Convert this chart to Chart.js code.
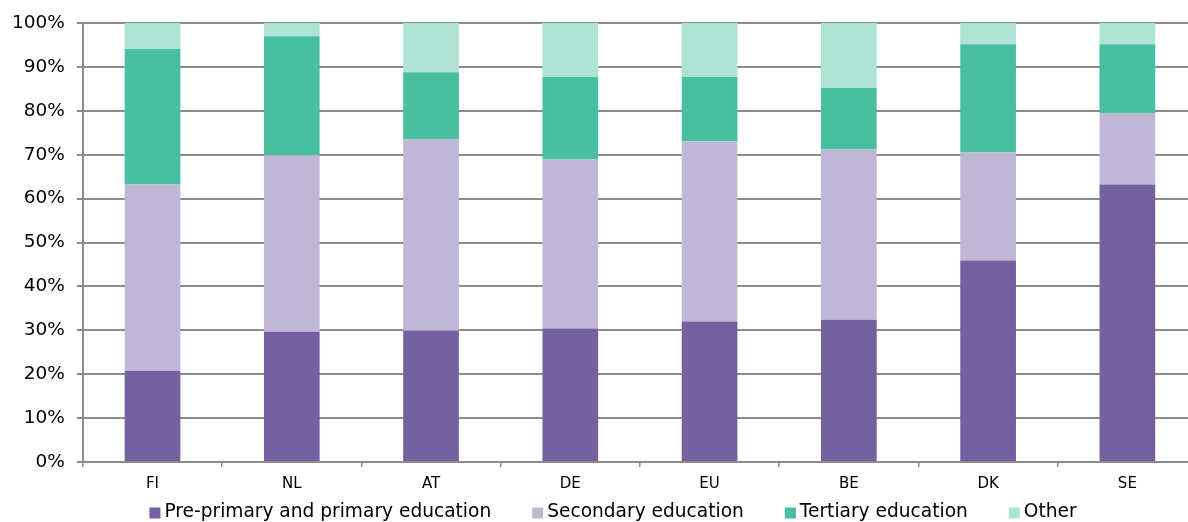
<!DOCTYPE html>
<html>
<head>
<meta charset="utf-8">
<script src="https://cdn.jsdelivr.net/npm/chart.js@4/dist/chart.umd.min.js"></script>
<style>
  html, body { margin: 0; padding: 0; background: #fff; overflow: hidden; }
  #wrap { position: relative; width: 1228px; height: 522px; }
</style>
</head>
<body>
<div id="wrap"><canvas id="c"></canvas></div>
<script>
// Share of spending by education level, per country (%)
const countries = ['FI', 'NL', 'AT', 'DE', 'EU', 'BE', 'DK', 'SE'];
const primary   = [20.8, 29.7, 29.9, 30.4, 32.0, 32.4, 45.9, 63.2];
const secondary = [42.4, 40.2, 43.6, 38.5, 41.1, 38.8, 24.6, 16.3];
const tertiary  = [30.9, 27.1, 15.3, 18.8, 14.6, 14.0, 24.7, 15.7];
const other     = [5.9, 3.0, 11.2, 12.3, 12.3, 14.8, 4.8, 4.8];
const yTicks    = [0, 10, 20, 30, 40, 50, 60, 70, 80, 90, 100];

const seriesNames  = ['Pre-primary and primary education', 'Secondary education', 'Tertiary education', 'Other'];
const seriesColors = ['#7560a0', '#c0b7d7', '#48bfa0', '#ade3d5'];
const seriesData   = [primary, secondary, tertiary, other];

const font = "'DejaVu Sans', Verdana, sans-serif";

// Compact single-row legend drawn under the axis labels
const bottomLegend = {
  id: 'bottomLegend',
  afterDraw(chart) {
    const ctx = chart.ctx;
    const size = 18.6, box = 11, gapText = 4, gapItem = 41;
    ctx.save();
    ctx.font = size + 'px ' + font;
    const items = chart.data.datasets.map(ds => ({
      label: ds.label, color: ds.backgroundColor, w: ctx.measureText(ds.label).width
    }));
    const total = items.reduce((s, it) => s + box + gapText + it.w, 0) + gapItem * (items.length - 1);
    let x = 613 - total / 2;
    const cy = 512;
    ctx.textBaseline = 'middle';
    ctx.textAlign = 'left';
    items.forEach(it => {
      ctx.fillStyle = it.color;
      ctx.fillRect(x, cy - box / 2 + 1, box, box);
      x += box + gapText;
      ctx.fillStyle = '#000';
      ctx.fillText(it.label, x, cy);
      x += it.w + gapItem;
    });
    ctx.restore();
  }
};

new Chart(document.getElementById('c'), {
  type: 'bar',
  data: {
    labels: countries,
    datasets: seriesData.map((d, i) => ({
      label: seriesNames[i],
      data: d,
      backgroundColor: seriesColors[i],
      borderWidth: 0,
      barPercentage: 0.8,
      categoryPercentage: 0.5
    }))
  },
  plugins: [bottomLegend],
  options: {
    responsive: true,
    maintainAspectRatio: false,
    animation: false,
    devicePixelRatio: 1,
    layout: { padding: { top: 11, right: 31, left: 0, bottom: 21 } },
    plugins: {
      tooltip: { enabled: false },
      legend: { display: false }
    },
    scales: {
      x: {
        stacked: true,
        grid: {
          display: true,
          drawOnChartArea: false,
          drawTicks: true,
          tickLength: 5,
          color: '#8c8c8c',
          lineWidth: 1.5,
          offset: true
        },
        border: { display: true, color: '#8c8c8c', width: 2 },
        ticks: { font: { family: font, size: 15 }, color: '#000', padding: 8 }
      },
      y: {
        stacked: true,
        min: 0,
        max: 100,
        afterBuildTicks: (axis) => { axis.ticks = yTicks.map(v => ({ value: v })); },
        grid: {
          color: '#8c8c8c',
          lineWidth: 2,
          tickLength: 6,
          drawTicks: true
        },
        border: { display: true, color: '#8c8c8c', width: 2 },
        ticks: {
          font: { family: font, size: 18.5 },
          color: '#000',
          padding: 12,
          callback: (v) => v + '%'
        }
      }
    }
  }
});
</script>
</body>
</html>
